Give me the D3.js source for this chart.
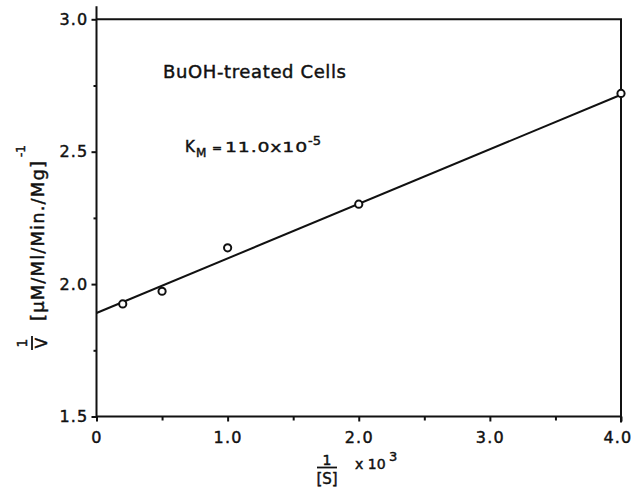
<!DOCTYPE html>
<html>
<head>
<meta charset="utf-8">
<script src="https://cdn.jsdelivr.net/npm/d3@7"></script>
<style>
  body { margin: 0; background: #fff; }
  text { font-family: "DejaVu Sans", sans-serif; fill: #111; stroke: #111; stroke-width: 0.45px; }
</style>
</head>
<body>
<div id="chart"></div>
<script>
// measured points (1/[S] x 10^3 , 1/v)
const sValues = [0.2, 0.5, 1.0, 2.0, 4.0];
const vValues = [1.925, 1.973, 2.137, 2.302, 2.72];

// fitted line
const fitX = [0, 4.0];
const fitY = [1.891, 2.715];

const xTicks = [0, 1, 2, 3, 4];
const xTickLabels = ["0", "1.0", "2.0", "3.0", "4.0"];
const xMinorTicks = [0.5, 1.5, 2.5, 3.5];
const yTicks = [1.5, 2.0, 2.5, 3.0];
const yTickLabels = ["1.5", "2.0", "2.5", "3.0"];
const yMinorTicks = [1.75, 2.25, 2.75];

let width = 632, height = 492;
var margin = {top: 19.3, right: 11, bottom: 75.5, left: 96.5};

var svg = d3.select("#chart")
    .append("svg")
    .attr("width", width)
    .attr("height", height);

let xScale = d3.scaleLinear()
    .domain([0, 4])
    .range([margin.left, width - margin.right]);

let yScale = d3.scaleLinear()
    .domain([1.5, 3.0])
    .range([height - margin.bottom, margin.top]);

// bottom axis
let xAxis = svg.append("g")
    .attr("transform", "translate(0," + yScale(1.5) + ")")
    .call(d3.axisBottom(xScale)
        .tickValues(xTicks)
        .tickSize(5)
        .tickPadding(10)
        .tickFormat((d, i) => xTickLabels[i]));

svg.append("g")
    .attr("transform", "translate(0," + yScale(1.5) + ")")
    .call(d3.axisBottom(xScale)
        .tickValues(xMinorTicks)
        .tickSize(4)
        .tickFormat(""));

// left axis
let yAxis = svg.append("g")
    .attr("transform", "translate(" + xScale(0) + ",0)")
    .call(d3.axisLeft(yScale)
        .tickValues(yTicks)
        .tickSize(5)
        .tickPadding(3)
        .tickFormat((d, i) => yTickLabels[i]));

svg.append("g")
    .attr("transform", "translate(" + xScale(0) + ",0)")
    .call(d3.axisLeft(yScale)
        .tickValues(yMinorTicks)
        .tickSize(3)
        .tickFormat(""));

svg.selectAll(".domain").remove();
svg.selectAll(".tick line").attr("stroke", "#111").attr("stroke-width", 2);
svg.selectAll(".tick text")
    .style("font-family", "DejaVu Sans")
    .style("font-size", "16px")
    .style("letter-spacing", "1.2px")
    .attr("fill", "#111");

// last x label sits at the page edge, keep it inside
xAxis.selectAll(".tick text")
    .filter((d, i) => i === xTicks.length - 1)
    .attr("text-anchor", "end")
    .attr("x", 11);

// frame
let frame = d3.path();
frame.moveTo(xScale(0), yScale(3.0) - 13);
frame.lineTo(xScale(0), yScale(1.5));
frame.lineTo(xScale(4), yScale(1.5));
frame.moveTo(xScale(0), yScale(3.0));
frame.lineTo(xScale(4), yScale(3.0));
frame.lineTo(xScale(4), yScale(1.5) + 6);

svg.append("path")
    .attr("d", frame.toString())
    .attr("fill", "none")
    .attr("stroke", "#111")
    .attr("stroke-width", 2);

// fitted line
svg.append("path")
    .datum(fitX.map((d, i) => [d, fitY[i]]))
    .attr("fill", "none")
    .attr("stroke", "#111")
    .attr("stroke-width", 2)
    .attr("d", d3.line()
        .x(function(d) { return xScale(d[0]); })
        .y(function(d) { return yScale(d[1]); }));

// points
svg.selectAll("circle.pt")
    .data(sValues)
    .enter()
    .append("circle")
    .attr("class", "pt")
    .attr("cx", d => xScale(d))
    .attr("cy", (d, i) => yScale(vValues[i]))
    .attr("r", 3.6)
    .attr("fill", "#fff")
    .attr("stroke", "#111")
    .attr("stroke-width", 2);

// annotations
svg.append("text")
    .attr("x", 163)
    .attr("y", 78)
    .attr("textLength", 183)
    .attr("lengthAdjust", "spacing")
    .style("font-size", "18px")
    .text("BuOH-treated Cells");

let km = svg.append("g");
km.append("text").attr("x", 185).attr("y", 152).style("font-size", "15px").text("K");
km.append("text").attr("x", 196).attr("y", 157).style("font-size", "12px").text("M");
km.append("text").attr("x", 212).attr("y", 152).style("font-size", "12px").text("=");
// the original lettering is wide, stretch it sideways
km.append("text")
    .attr("transform", "translate(225,152) scale(1.35,1)")
    .style("font-size", "14px")
    .style("letter-spacing", "0.6px")
    .style("stroke-width", "0.35px")
    .text("11.0x10");
km.append("text").attr("x", 308).attr("y", 145).style("font-size", "13px").text("-5");

// x label
let xl = svg.append("g");
xl.append("text").attr("x", 327).attr("y", 465).attr("text-anchor", "middle")
    .style("font-size", "14px").text("1");
xl.append("line").attr("x1", 317).attr("x2", 337).attr("y1", 467.5).attr("y2", 467.5)
    .attr("stroke", "#111").attr("stroke-width", 1.8);
xl.append("text").attr("x", 327).attr("y", 484).attr("text-anchor", "middle")
    .style("font-size", "15px").text("[S]");
xl.append("text").attr("x", 355).attr("y", 469).style("font-size", "14px").text("x 10");
xl.append("text").attr("x", 389).attr("y", 461).style("font-size", "13px").text("3");

// y label (rotated)
let yl = svg.append("g")
    .attr("transform", "translate(44,241) rotate(-90)");
yl.append("text").attr("x", 0).attr("y", 0).attr("text-anchor", "middle")
    .attr("textLength", 160).attr("lengthAdjust", "spacing")
    .style("font-size", "18px").text("[µM/Ml/Min./Mg]");
yl.append("text").attr("x", 84).attr("y", -19).style("font-size", "12px").text("-1");
yl.append("text").attr("x", -102).attr("y", -17).attr("text-anchor", "middle")
    .style("font-size", "14px").text("1");
yl.append("line").attr("x1", -109).attr("x2", -95).attr("y1", -12).attr("y2", -12)
    .attr("stroke", "#111").attr("stroke-width", 1.8);
yl.append("text").attr("x", -102).attr("y", 3).attr("text-anchor", "middle")
    .style("font-size", "15px").text("V");
</script>
</body>
</html>
